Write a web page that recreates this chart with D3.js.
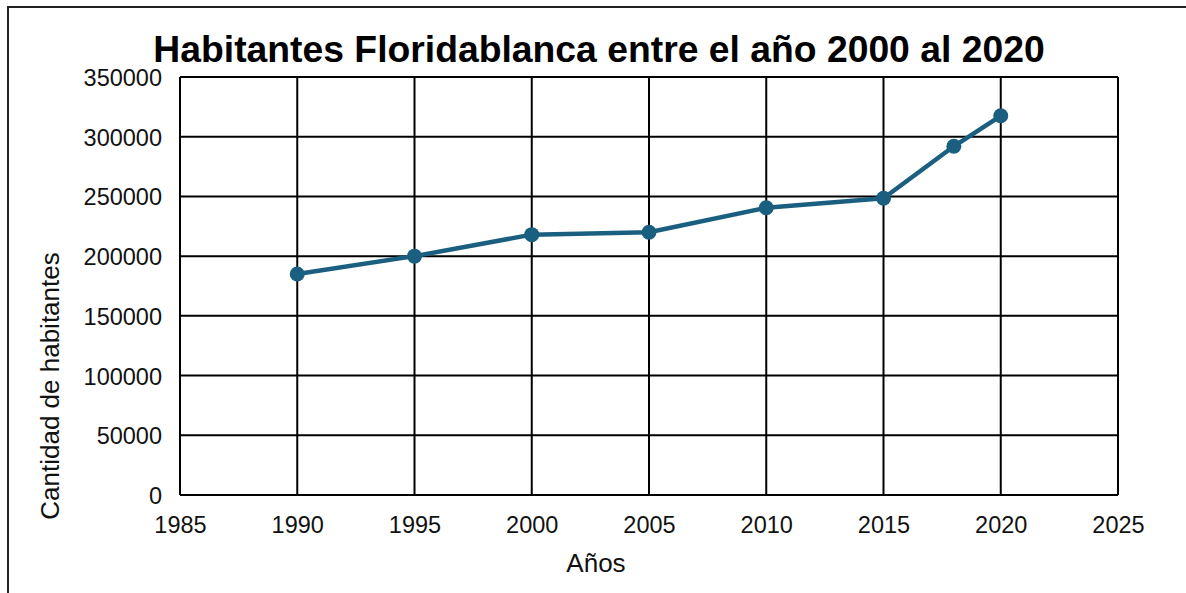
<!DOCTYPE html>
<html>
<head>
<meta charset="utf-8">
<script src="https://cdn.jsdelivr.net/npm/d3@7"></script>
<style>
  html, body { margin: 0; padding: 0; background: #fff; }
  svg { display: block; font-family: "Liberation Sans", Arial, sans-serif; }
</style>
</head>
<body>
<svg id="chart" width="1186" height="593"></svg>
<script>
// Population of Floridablanca by year
const years = [1990, 1995, 2000, 2005, 2010, 2015, 2018, 2020];
const habitantes = [185000, 200000, 218000, 220000, 240500, 248500, 292000, 317500];
const xTicks = [1985, 1990, 1995, 2000, 2005, 2010, 2015, 2020, 2025];
const yTicks = [0, 50000, 100000, 150000, 200000, 250000, 300000, 350000];

const titleText = "Habitantes Floridablanca entre el año 2000 al 2020";
const xLabel = "Años";
const yLabel = "Cantidad de habitantes";

const svg = d3.select("#chart");
const W = 1186, H = 593;
const plot = { left: 180, top: 77, right: 1118, bottom: 495 };
const lineColor = "#1b5f80";

// Outer frame (runs off the right and bottom edges)
svg.append("rect")
  .attr("x", 8).attr("y", 7)
  .attr("width", W + 10).attr("height", H + 10)
  .attr("fill", "none").attr("stroke", "#222").attr("stroke-width", 2);

const x = d3.scaleLinear().domain([1985, 2025]).range([plot.left, plot.right]);
const y = d3.scaleLinear().domain([0, 350000]).range([plot.bottom, plot.top]);

// Grid
const grid = svg.append("g");
grid.selectAll("line.v").data(xTicks).join("line")
  .attr("x1", d => x(d)).attr("x2", d => x(d))
  .attr("y1", plot.top).attr("y2", plot.bottom)
  .attr("stroke", "#000").attr("stroke-width", 2);
grid.selectAll("line.h").data(yTicks).join("line")
  .attr("x1", plot.left).attr("x2", plot.right)
  .attr("y1", d => y(d)).attr("y2", d => y(d))
  .attr("stroke", "#000").attr("stroke-width", 2);

// Axes (labels only; the grid carries the lines)
const xAxis = svg.append("g")
  .attr("transform", `translate(0,${plot.bottom})`)
  .call(d3.axisBottom(x).tickValues(xTicks).tickFormat(d3.format("d")).tickSize(0).tickPadding(21));
const yAxis = svg.append("g")
  .attr("transform", `translate(${plot.left},0)`)
  .call(d3.axisLeft(y).tickValues(yTicks).tickFormat(d3.format("d")).tickSize(0).tickPadding(18));
[xAxis, yAxis].forEach(a => {
  a.select(".domain").remove();
  a.selectAll("text")
    .attr("font-family", "Liberation Sans, Arial, sans-serif")
    .attr("font-size", 23.5).attr("fill", "#111");
});
yAxis.selectAll("text").attr("dy", "0.36em");

// Series
const pts = years.map((yr, i) => ({ yr, v: habitantes[i] }));
svg.append("path")
  .datum(pts)
  .attr("fill", "none")
  .attr("stroke", lineColor)
  .attr("stroke-width", 4.5)
  .attr("stroke-linejoin", "round")
  .attr("d", d3.line().x(d => x(d.yr)).y(d => y(d.v)));
svg.append("g").selectAll("circle").data(pts).join("circle")
  .attr("cx", d => x(d.yr)).attr("cy", d => y(d.v))
  .attr("r", 7.5).attr("fill", lineColor);

// Title and axis titles
svg.append("text")
  .attr("x", 599).attr("y", 62)
  .attr("text-anchor", "middle")
  .attr("font-size", 37.3).attr("font-weight", "bold").attr("fill", "#000")
  .text(titleText);
svg.append("text")
  .attr("x", 596).attr("y", 572)
  .attr("text-anchor", "middle")
  .attr("font-size", 26).attr("fill", "#111")
  .text(xLabel);
svg.append("text")
  .attr("transform", "translate(59,386) rotate(-90)")
  .attr("text-anchor", "middle")
  .attr("font-size", 26).attr("fill", "#111")
  .text(yLabel);
</script>
</body>
</html>
